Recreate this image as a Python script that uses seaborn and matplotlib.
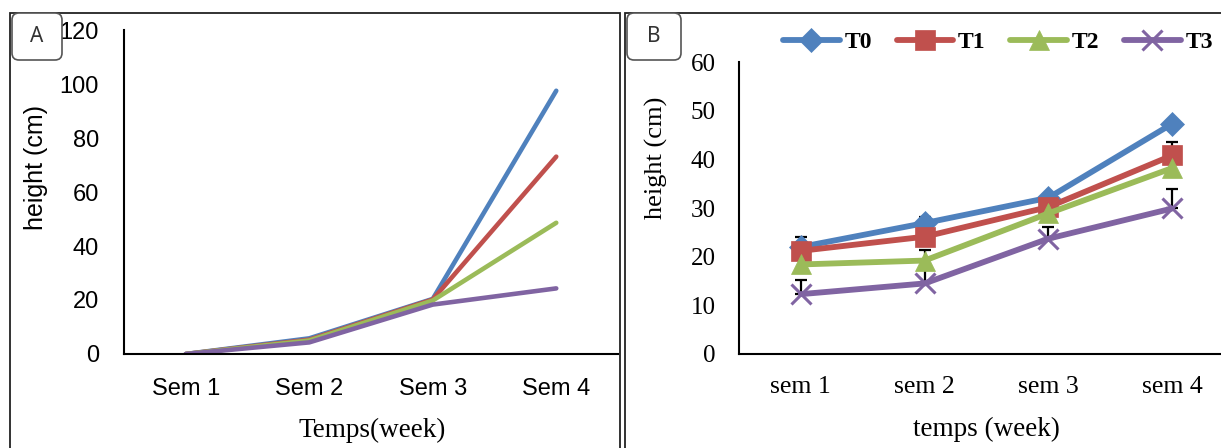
import numpy as np
import pandas as pd
import matplotlib
matplotlib.use("Agg")
import matplotlib.pyplot as plt
import seaborn as sns
from matplotlib.patches import FancyBboxPatch, Rectangle

# --- DATA ---
weeks_a = ["Sem 1", "Sem 2", "Sem 3", "Sem 4"]
weeks_b = ["sem 1", "sem 2", "sem 3", "sem 4"]
treatments = ["T0", "T1", "T2", "T3"]

# panel A : plant height per week (cm)
height_a_t0 = [0.0, 5.8, 20.4, 97.5]
height_a_t1 = [0.0, 5.3, 20.2, 73.1]
height_a_t2 = [0.0, 5.0, 19.8, 48.6]
height_a_t3 = [0.0, 4.3, 18.3, 24.3]

# panel B : plant height per week (cm)
height_b_t0 = [22.0, 26.9, 32.1, 47.3]
height_b_t1 = [21.2, 24.1, 30.2, 40.8]
height_b_t2 = [18.4, 19.2, 28.9, 38.2]
height_b_t3 = [12.3, 14.5, 23.7, 29.9]

# upper error bars visible in panel B (0 = none)
err_b_t0 = [2.0, 1.3, 0.0, 0.0]
err_b_t1 = [0.0, 0.0, 0.0, 2.8]
err_b_t2 = [0.0, 0.0, 0.0, 0.0]
err_b_t3 = [2.9, 6.9, 2.4, 4.1]

colors = ["#4F81BD", "#C0504D", "#9BBB59", "#8064A2"]
markers = ["D", "s", "^", "x"]
msizes = [12, 14, 14, 15]

SERIF = ["Liberation Serif", "DejaVu Serif"]
SANS = ["Liberation Sans", "DejaVu Sans"]

sns.set_style("white")
plt.rcParams["font.family"] = SANS
plt.rcParams["text.color"] = "black"
plt.rcParams["axes.labelcolor"] = "black"
plt.rcParams["xtick.color"] = "black"
plt.rcParams["ytick.color"] = "black"

W, H = 1221, 448
fig = plt.figure(figsize=(W / 100, H / 100), dpi=100)


def fx(px):
    return px / W


def fy(py):
    return 1 - py / H


# --- panel frames ---
fig.add_artist(Rectangle((fx(9.5), -0.05), fx(620 - 9.5), fy(13) + 0.05,
                         transform=fig.transFigure, fill=False, ec="#222222", lw=1.3))
fig.add_artist(Rectangle((fx(625), -0.05), 0.6, fy(13) + 0.05,
                         transform=fig.transFigure, fill=False, ec="#222222", lw=1.3))

# --- PANEL A ---
axA = fig.add_axes([fx(124), fy(354), fx(618 - 124), (354 - 30) / H])
heights_a = [height_a_t0, height_a_t1, height_a_t2, height_a_t3]
for t, vals, c in zip(treatments, heights_a, colors):
    sns.lineplot(x=weeks_a, y=vals, ax=axA, color=c, lw=3.3, sort=False,
                 solid_capstyle="round")
axA.set_xlim(-0.5, 3.5)
axA.set_ylim(0, 120)
axA.set_yticks(range(0, 121, 20))
axA.tick_params(axis="y", length=6, width=1.2, direction="out", pad=12, labelsize=17)
axA.tick_params(axis="x", length=0, pad=17, labelsize=17)
for s in ["top", "right"]:
    axA.spines[s].set_visible(False)
for s in ["left", "bottom"]:
    axA.spines[s].set_color("black")
    axA.spines[s].set_linewidth(1.5)
axA.set_ylabel("height (cm)", fontsize=18)
axA.yaxis.set_label_coords(-0.154, 0.577)
axA.set_xlabel("Temps(week)", fontsize=19.5, family=SERIF)
axA.xaxis.set_label_coords(0.502, -0.198)

# --- PANEL B ---
axB = fig.add_axes([fx(739), fy(354), fx(1234 - 739), (354 - 62) / H])
heights_b = [height_b_t0, height_b_t1, height_b_t2, height_b_t3]
errs_b = [err_b_t0, err_b_t1, err_b_t2, err_b_t3]
for t, vals, c, m, ms in zip(treatments, heights_b, colors, markers, msizes):
    sns.lineplot(x=weeks_b, y=vals, ax=axB, color=c, lw=4.2, sort=False,
                 marker=m, markersize=ms, markeredgecolor=c,
                 markeredgewidth=2.2 if m == "x" else 0.5, label=t, zorder=3)
for t, vals, errs in zip(treatments, heights_b, errs_b):
    xs = [w for w, e in zip(weeks_b, errs) if e > 0]
    ys = [v for v, e in zip(vals, errs) if e > 0]
    es = [e for e in errs if e > 0]
    if xs:
        axB.errorbar(xs, ys, yerr=[np.zeros(len(es)), es], fmt="none",
                     ecolor="black", elinewidth=1.6, capsize=4.5, capthick=1.6, zorder=1.5)
axB.set_xlim(-0.5, 3.5)
axB.set_ylim(0, 60)
axB.set_yticks(range(0, 61, 10))
axB.tick_params(axis="y", length=6, width=1.2, direction="out", pad=11, labelsize=18)
axB.tick_params(axis="x", length=0, pad=16, labelsize=18.5)
for lab in axB.get_xticklabels() + axB.get_yticklabels():
    lab.set_family(SERIF)
for s in ["top", "right"]:
    axB.spines[s].set_visible(False)
for s in ["left", "bottom"]:
    axB.spines[s].set_color("black")
    axB.spines[s].set_linewidth(1.5)
axB.set_ylabel("height (cm)", fontsize=19, family=SERIF)
axB.yaxis.set_label_coords(-0.143, 0.671)
axB.set_xlabel("temps (week)", fontsize=19.5, family=SERIF)
axB.xaxis.set_label_coords(0.5, -0.216)
axB.legend(loc="center", bbox_to_anchor=(0.523, 1.068), ncol=4, frameon=False,
           prop={"family": SERIF, "weight": "bold", "size": 17},
           handlelength=2.4, handletextpad=0.2, columnspacing=1.05, borderaxespad=0)

# --- panel letters ---
for (x0, x1, letter) in [(12, 62, "A"), (627, 681, "B")]:
    box = FancyBboxPatch((x0 / 100, (H - 60) / 100), (x1 - x0) / 100, 0.47,
                         boxstyle="round,pad=0,rounding_size=0.07",
                         transform=fig.dpi_scale_trans, fc="white", ec="#555555", lw=1.2)
    fig.add_artist(box)
    fig.text((x0 + x1) / 2 / 100, (H - 36) / 100, letter, transform=fig.dpi_scale_trans,
             ha="center", va="center", fontsize=15, family=["Noto Sans", "DejaVu Sans"],
             weight="light", color="#333333")

fig.savefig("out.png", dpi=100)
